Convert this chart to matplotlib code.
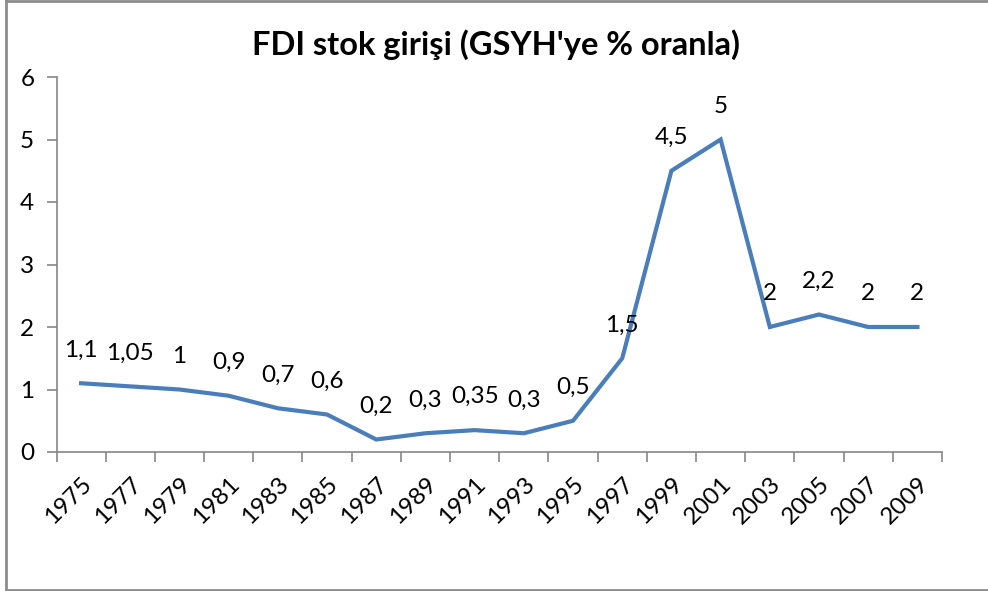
import matplotlib
matplotlib.use("Agg")
import matplotlib.pyplot as plt
from matplotlib.lines import Line2D

years = ["1975", "1977", "1979", "1981", "1983", "1985", "1987", "1989", "1991",
         "1993", "1995", "1997", "1999", "2001", "2003", "2005", "2007", "2009"]
values = [1.1, 1.05, 1.0, 0.9, 0.7, 0.6, 0.2, 0.3, 0.35, 0.3, 0.5, 1.5, 4.5, 5.0,
          2.0, 2.2, 2.0, 2.0]
yticks = [0, 1, 2, 3, 4, 5, 6]
title = "FDI stok girişi (GSYH'ye % oranla)"

FONT = "Lato"
FS = 17.5
W, H = 988, 591
fig = plt.figure(figsize=(W / 100, H / 100), dpi=100)
ax = fig.add_axes([56.5 / W, 1 - 452 / H, (942 - 56.5) / W, (452 - 77) / H])

x = list(range(len(years)))
ax.plot(x, values, color="#4A7EBB", lw=3.0, solid_joinstyle="miter", clip_on=False)

for xi, v in zip(x, values):
    lab = f"{v:g}".replace(".", ",")
    ax.annotate(lab, (xi, v), xytext=(0, 24), textcoords="offset points",
                ha="center", va="center", fontsize=FS, family=FONT, color="#000000")

ax.set_xlim(-0.5, len(years) - 0.5)
ax.set_ylim(0, 6)
ax.set_yticks(yticks)
ax.set_yticklabels([str(t) for t in yticks], fontsize=FS, family=FONT)
ax.set_xticks(x)
ax.set_xticklabels(years, rotation=45, ha="right", va="top", rotation_mode="anchor",
                   fontsize=FS, family=FONT)
ax.set_xticks([i - 0.5 for i in range(len(years) + 1)], minor=True)
ax.tick_params(axis="x", which="major", length=0, pad=15)
ax.tick_params(axis="x", which="minor", length=7, width=1.2, color="#868686")
ax.tick_params(axis="y", length=7, width=1.2, color="#868686", pad=9)

for s in ["top", "right"]:
    ax.spines[s].set_visible(False)
for s in ["left", "bottom"]:
    ax.spines[s].set_color("#868686")
    ax.spines[s].set_linewidth(1.2)

fig.text(496 / W, 1 - 45 / H, title, ha="center", va="center", fontsize=23.5,
         fontweight="bold", family=FONT)

# chart-area border
bc = "#8C8C8C"
fig.add_artist(Line2D([6 / W, 6 / W], [0, 1], transform=fig.transFigure, color=bc, lw=2))
fig.add_artist(Line2D([6 / W, 1], [1 - 1 / H, 1 - 1 / H], transform=fig.transFigure, color=bc, lw=2))
fig.add_artist(Line2D([6 / W, 1], [1 / H, 1 / H], transform=fig.transFigure, color=bc, lw=2))

fig.savefig("out.png", dpi=100)
